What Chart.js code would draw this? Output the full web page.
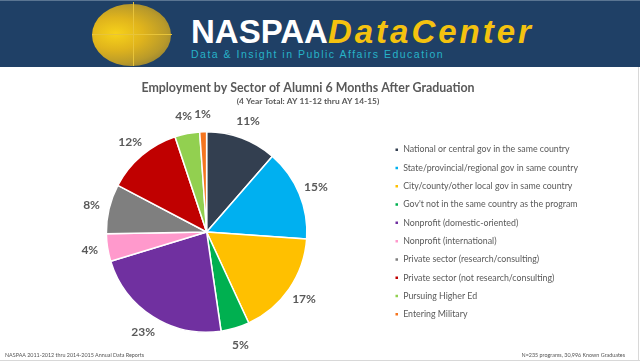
<!DOCTYPE html>
<html>
<head>
<meta charset="utf-8">
<script src="https://cdn.jsdelivr.net/npm/chart.js@4"></script>
<style>
  body { margin: 0; width: 640px; height: 362px; background: #fff; overflow: hidden; position: relative; font-family: Lato, sans-serif; }
  #head { position: absolute; left: 0; top: 0; width: 640px; height: 67px; background: #1f4066; border-top: 1px solid #5a7592; box-sizing: border-box; }
  #globe { position: absolute; left: 92px; top: 3px; width: 79px; height: 62px; border-radius: 50%;
    background: radial-gradient(ellipse at 30% 48%, #f7d21a 0%, #e0b41c 35%, #b99a2a 65%, #6f6a3e 100%); }
  #globe .v { position: absolute; left: 41px; top: -2px; width: 1px; height: 64px; background: #e8c43a; }
  #globe .h { position: absolute; left: 0; top: 30px; width: 80px; height: 1px; background: #e8c43a; }
  #brand { position: absolute; left: 191px; top: 12px; line-height: 38px; font-family: "Liberation Sans", Arial, sans-serif; font-weight: bold; font-size: 33px; color: #fff; white-space: nowrap; }
  #brand i { color: #f4c20f; letter-spacing: 3px; }
  #tag { position: absolute; left: 191px; top: 47px; font-family: "Liberation Sans", Arial, sans-serif; font-size: 10.5px; letter-spacing: 1.5px; color: #27b3c8; white-space: nowrap; }
  #wrap { position: absolute; left: 0; top: 68px; width: 640px; height: 294px; }
  .foot { position: absolute; top: 352px; font-size: 5.4px; color: #555; white-space: nowrap; }
  #edge { position: absolute; right: 1px; top: 67px; width: 1px; height: 294px; background: #d8d8d8; }
  #bottom { position: absolute; left: 0; top: 360px; width: 640px; height: 1px; background: #d8d8d8; }
</style>
</head>
<body>
<div id="head">
  <div id="globe"><div class="v"></div><div class="h"></div></div>
  <div id="brand">NASPAA<i>DataCenter</i></div>
  <div id="tag">Data &amp; Insight in Public Affairs Education</div>
</div>
<div id="wrap"><canvas id="pieChart"></canvas></div>
<div class="foot" style="left:5px">NASPAA 2011-2012 thru 2014-2015 Annual Data Reports</div>
<div class="foot" style="right:15px">N=235 programs, 30,996 Known Graduates</div>
<div id="edge"></div>
<div id="bottom"></div>
<script>
const sectors = [
  "National or central gov in the same country",
  "State/provincial/regional gov in same country",
  "City/county/other local gov in same country",
  "Gov't not in the same country as the program",
  "Nonprofit (domestic-oriented)",
  "Nonprofit (international)",
  "Private sector (research/consulting)",
  "Private sector (not research/consulting)",
  "Pursuing Higher Ed",
  "Entering Military"
];
const shares = [11.4, 14.7, 17.0, 4.6, 22.6, 4.4, 8.0, 12.2, 4.0, 1.1];
const sliceColors = ["#333f50", "#00b0f0", "#ffc000", "#00b050", "#7030a0", "#ff99cc", "#7f7f7f", "#c00000", "#92d050", "#f5751f"];

// percent labels just outside each slice
const outsideLabels = {
  id: "outsideLabels",
  afterDatasetsDraw(chart) {
    const ctx = chart.ctx;
    const meta = chart.getDatasetMeta(0);
    ctx.save();
    ctx.font = "bold 12px Lato";
    ctx.fillStyle = "#595959";
    ctx.textAlign = "center";
    ctx.textBaseline = "middle";
    meta.data.forEach((arc, i) => {
      const a = (arc.startAngle + arc.endAngle) / 2;
      const r = arc.outerRadius + 18;
      ctx.fillText(Math.round(shares[i]) + "%", arc.x + Math.cos(a) * r, arc.y + Math.sin(a) * r);
    });
    ctx.restore();
  }
};

const CHART = document.getElementById("pieChart");
let pieChart = new Chart(CHART, {
  type: "pie",
  data: {
    labels: sectors,
    datasets: [{
      data: shares,
      backgroundColor: sliceColors,
      borderColor: "#fff",
      borderWidth: 1.5
    }]
  },
  options: {
    responsive: true,
    maintainAspectRatio: false,
    animation: false,
    layout: { padding: { left: 28, right: 52, top: 0, bottom: 29 } },
    plugins: {
      tooltip: { enabled: false },
      title: {
        display: true,
        text: "Employment by Sector of Alumni 6 Months After Graduation",
        color: "#595959",
        font: { family: "Lato", size: 12.4, weight: "bold" },
        padding: { top: 12.85, bottom: 0 }
      },
      subtitle: {
        display: true,
        text: "(4 Year Total: AY 11-12 thru AY 14-15)",
        color: "#595959",
        font: { family: "Lato", size: 8.4, weight: "bold" },
        padding: { top: 0.9, bottom: 24.25 }
      },
      legend: {
        position: "right",
        align: "center",
        fullSize: false,
        labels: {
          boxWidth: 4,
          boxHeight: 4,
          padding: 9.5,
          color: "#595959",
          font: { family: "Lato", size: 8.8 }
        }
      }
    }
  },
  plugins: [outsideLabels]
});
</script>
</body>
</html>
